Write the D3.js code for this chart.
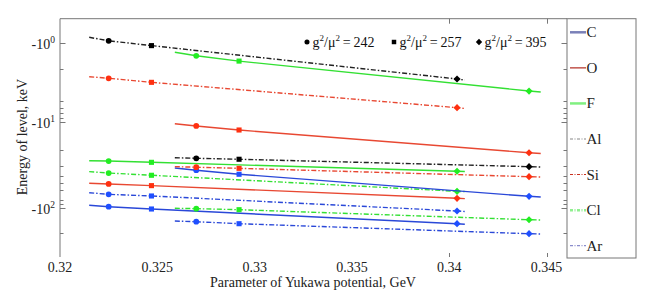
<!DOCTYPE html>
<html><head><meta charset="utf-8">
<script src="https://cdn.jsdelivr.net/npm/d3@7"></script>
<style>body{margin:0;background:#fff}svg{display:block}</style>
</head><body><svg id="c" width="654" height="294"></svg>
<script>
// ---------- data ----------
const elements = ["C", "O", "F", "Al", "Si", "Cl", "Ar"];
const couplings = ["242", "257", "395"];
const xTicks = [0.32, 0.325, 0.33, 0.335, 0.34, 0.345];
const xTickLabels = ["0.32", "0.325", "0.33", "0.335", "0.34", "0.345"];
const xFrameTicks = [0.34, 0.345];
const yMajor = [-1, -10, -100];
const yMajorExp = ["0", "1", "2"];
const yMinor = [-2.1, -5.4, -6.5, -7.7, -8.7, -21, -32, -42, -51, -62, -80, -88, -195];
// x positions: line start, g2/mu2=242, 257, 395, line end
const xSetA = [0.3215, 0.3225, 0.3247, 0.3404, 0.3408];
const xSetB = [0.3259, 0.3270, 0.3292, 0.3441, 0.3447];
// energies (keV), lower set of lines (A) and upper set (B), per element
const levelA_C  = [-92.3, -95.8, -101.9, -151, -153];
const levelA_O  = [-51.2, -52.1, -54.5, -76.5, -77.2];
const levelA_F  = [-28.0, -28.2, -29.2, -37.1, -37.4];
const levelA_Al = [-0.84, -0.93, -1.07, -2.83, -2.92];
const levelA_Si = [-2.65, -2.77, -3.12, -6.53, -6.69];
const levelA_Cl = [-37.5, -38.9, -41.3, -63.4, -63.9];
const levelA_Ar = [-65.9, -68.8, -71.9, -107.5, -108.9];
const levelB_C  = [-34.0, -36.1, -40.2, -72.5, -73.9];
const levelB_O  = [-10.4, -11.04, -12.29, -22.6, -23.1];
const levelB_F  = [-1.30, -1.44, -1.68, -4.02, -4.13];
const levelB_Al = [-25.8, -26.2, -26.9, -32.8, -33.1];
const levelB_Si = [-32.8, -33.3, -34.3, -42.9, -43.3];
const levelB_Cl = [-100, -101, -103.8, -135.8, -136.8];
const levelB_Ar = [-140.5, -143.2, -151, -197.4, -199];

const levelA = [levelA_C, levelA_O, levelA_F, levelA_Al, levelA_Si, levelA_Cl, levelA_Ar];
const levelB = [levelB_C, levelB_O, levelB_F, levelB_Al, levelB_Si, levelB_Cl, levelB_Ar];

// ---------- styles ----------
const FONT = "'Liberation Serif', 'DejaVu Serif', 'Times New Roman', serif";
const DASH = "5,2,1.5,2";
const style = {
  C:  {line: "#2a48d8", mark: "#1f4fff", dash: null, lg: "#7a80b8", lw: 2.5},
  O:  {line: "#e84832", mark: "#ff3010", dash: null, lg: "#b83a30", lw: 1.3},
  F:  {line: "#33e033", mark: "#22ee22", dash: null, lg: "#80f080", lw: 2.5},
  Al: {line: "#222222", mark: "#000000", dash: DASH, lg: "#888888", lw: 1.1},
  Si: {line: "#e84832", mark: "#ff3010", dash: DASH, lg: "#c83020", lw: 1.1},
  Cl: {line: "#33e033", mark: "#22ee22", dash: DASH, lg: "#90f090", lw: 2.5},
  Ar: {line: "#2a48d8", mark: "#1f4fff", dash: DASH, lg: "#8a8ccc", lw: 1.3}
};

const svg = d3.select("#c");
const L = 60, R = 567, T = 18.7, B = 257;

const x = d3.scaleLinear().domain([0.32, 0.34605]).range([L, R]);
const y = d3.scaleLog().domain([-0.489, -1, -10, -100, -368]).range([T, 43.3, 122.3, 208.3, B]);

const axisColor = "#777";
function txt(sel) { return sel.append("text").attr("font-family", FONT).attr("fill", "#222"); }

// frame
svg.append("line").attr("x1", L).attr("x2", L).attr("y1", T).attr("y2", B).attr("stroke", axisColor);
svg.append("line").attr("x1", L).attr("x2", R).attr("y1", T).attr("y2", T).attr("stroke", axisColor);

// y ticks (both sides, inward)
yMajor.forEach(v => {
  const yy = Math.round(y(v)) + 0.5;
  svg.append("line").attr("x1", L).attr("x2", L + 5.5).attr("y1", yy).attr("y2", yy).attr("stroke", axisColor);
  svg.append("line").attr("x1", R - 5.5).attr("x2", R).attr("y1", yy).attr("y2", yy).attr("stroke", axisColor);
});
yMinor.forEach(v => {
  const yy = Math.round(y(v)) + 0.5;
  svg.append("line").attr("x1", L).attr("x2", L + 3.5).attr("y1", yy).attr("y2", yy).attr("stroke", axisColor);
  svg.append("line").attr("x1", R - 3.5).attr("x2", R).attr("y1", yy).attr("y2", yy).attr("stroke", axisColor);
});
// y labels
yMajor.forEach((v, i) => {
  const t = txt(svg).attr("x", 55).attr("y", y(v) + 6).attr("text-anchor", "end").attr("font-size", 14);
  t.append("tspan").text("-10");
  t.append("tspan").attr("dy", -6).attr("font-size", 9.5).text(yMajorExp[i]);
});

// x ticks on frame
xFrameTicks.forEach(v => {
  const xx = Math.round(x(v)) + 0.5;
  svg.append("line").attr("x1", xx).attr("x2", xx).attr("y1", T).attr("y2", T + 5).attr("stroke", axisColor);
  svg.append("line").attr("x1", xx).attr("x2", xx).attr("y1", B - 4).attr("y2", B).attr("stroke", axisColor);
});
// x labels
xTicks.forEach((v, i) => {
  txt(svg).attr("x", x(v)).attr("y", 271.5).attr("text-anchor", "middle")
    .attr("font-size", 14).text(xTickLabels[i]);
});

// axis titles
txt(svg).attr("x", 313).attr("y", 287).attr("text-anchor", "middle")
  .attr("font-size", 14).text("Parameter of Yukawa potential, GeV");
txt(svg).attr("transform", "translate(27,137) rotate(-90)").attr("text-anchor", "middle")
  .attr("font-size", 14).text("Energy of level, keV");

// series
const line = d3.line().x(d => x(d[0])).y(d => y(d[1]));
const diamond = { draw(ctx, size) { const r = Math.sqrt(size / 2); ctx.moveTo(0, -r); ctx.lineTo(r, 0); ctx.lineTo(0, r); ctx.lineTo(-r, 0); ctx.closePath(); } };
const markerTypes = [d3.symbolCircle, d3.symbolSquare, diamond];
const markerSizes = [26, 26, 26];

function drawSet(xs, levels) {
  levels.forEach((vals, i) => {
    const s = style[elements[i]];
    const pts = vals.map((v, k) => [xs[k], v]);
    svg.append("path").attr("d", line(pts)).attr("fill", "none").attr("stroke", s.line)
      .attr("stroke-width", 1.4).attr("stroke-dasharray", s.dash);
    [1, 2, 3].forEach((k, m) => {
      svg.append("path").attr("d", d3.symbol().type(markerTypes[m]).size(markerSizes[m])())
        .attr("transform", `translate(${x(xs[k])},${y(vals[k])})`).attr("fill", s.mark);
    });
  });
}
drawSet(xSetA, levelA);
drawSet(xSetB, levelB);

// top legend for couplings
const topLegX = [307, 394, 479];
couplings.forEach((c, m) => {
  svg.append("path").attr("d", d3.symbol().type(markerTypes[m]).size(20)())
    .attr("transform", `translate(${topLegX[m]},${42})`).attr("fill", "#000");
  const t = txt(svg).attr("x", topLegX[m] + 5.5).attr("y", 47).attr("font-size", 14).attr("fill", "#111");
  t.append("tspan").text("g");
  t.append("tspan").attr("dy", -6).attr("font-size", 9).text("2");
  t.append("tspan").attr("dy", 6).text("/μ");
  t.append("tspan").attr("dy", -6).attr("font-size", 9).text("2");
  t.append("tspan").attr("dy", 6).text("\u2009=\u2009" + c);
});

// element legend box
svg.append("rect").attr("x", R).attr("y", T).attr("width", 69).attr("height", 258 - T)
  .attr("fill", "none").attr("stroke", axisColor);
const legY = d3.scaleLinear().domain([0, elements.length - 1]).range([32.3, 245.7]);
elements.forEach((e, i) => {
  const s = style[e];
  const yy = legY(i);
  svg.append("line").attr("x1", 570).attr("x2", 586).attr("y1", yy).attr("y2", yy)
    .attr("stroke", s.lg).attr("stroke-width", s.lw).attr("stroke-dasharray", s.dash ? "3,1.5,1,1.5" : null);
  txt(svg).attr("x", 586.5).attr("y", yy + 5).attr("font-size", 15).text(e);
});
</script>
</body></html>
